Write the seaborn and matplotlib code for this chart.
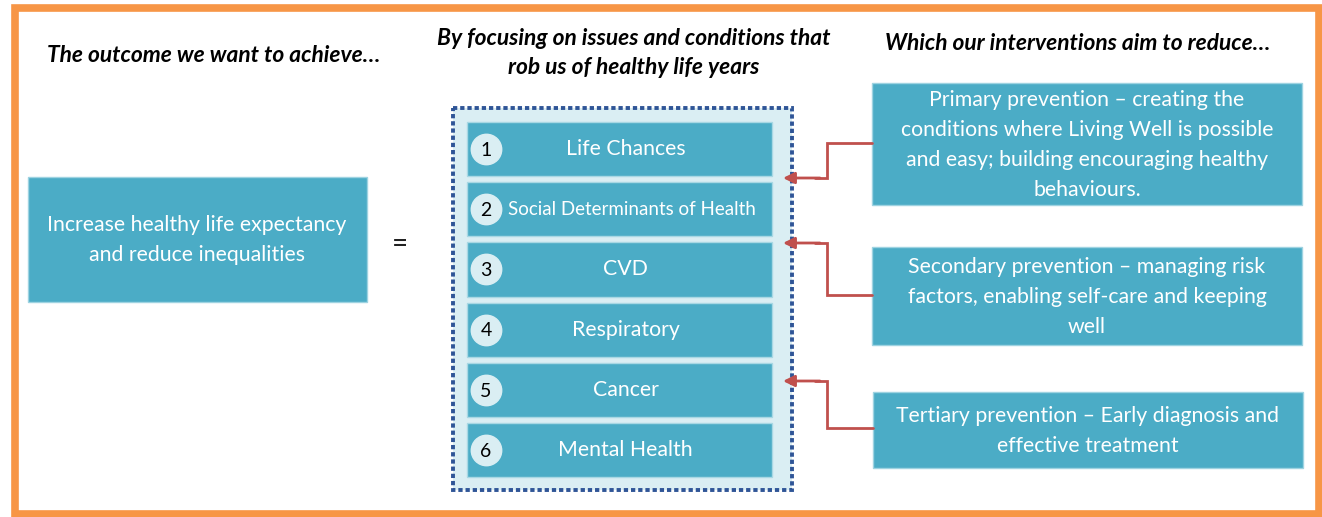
import matplotlib
matplotlib.use("Agg")
import matplotlib.pyplot as plt
from matplotlib.patches import Rectangle
import seaborn as sns

# content of the diagram
headings = ["The outcome we want to achieve\u2026",
            "By focusing on issues and conditions that\nrob us of healthy life years",
            "Which our interventions aim to reduce\u2026"]
outcome = "Increase healthy life expectancy\nand reduce inequalities"
row_numbers = ["1", "2", "3", "4", "5", "6"]
row_labels = ["Life Chances", "Social Determinants of Health", "CVD",
              "Respiratory", "Cancer", "Mental Health"]
row_len = [1, 1, 1, 1, 1, 1]
interventions = ["Primary prevention \u2013 creating the\nconditions where Living Well is possible\nand easy; building encouraging healthy\nbehaviours.",
                 "Secondary prevention \u2013 managing risk\nfactors, enabling self-care and keeping\nwell",
                 "Tertiary prevention \u2013 Early diagnosis and\neffective treatment"]

# layout in pixels (x0, y0, x1, y1)
W, H = 1322, 517
box_pos = [(872, 83, 1302, 205), (872, 247, 1302, 345), (873, 392, 1303, 468)]
link_from = [143, 295, 428]
link_to = [178, 243, 381]

TEAL = "#4BACC6"
PALE = "#DAEEF3"
RED = "#C0504D"
BODY = 15.3

sns.set_style("white")
plt.rcParams["font.family"] = ["Lato", "DejaVu Sans"]

fig = plt.figure(figsize=(W / 100, H / 100), dpi=100, facecolor="white")

# the six issues as a bar list
ax2 = fig.add_axes([453 / W, (H - 490) / H, 339 / W, 382 / H])
ax2.set_facecolor(PALE)
sns.barplot(x=row_len, y=row_labels, orient="h", color=TEAL, saturation=1,
            width=0.9, edgecolor="#A8D8E4", linewidth=1, ax=ax2)
ax2.set_xlim(-0.046, 1.066)
ax2.set_ylim(5.66, -0.68)
ax2.set_xticks([])
ax2.set_yticks([])
ax2.set_xlabel("")
ax2.set_ylabel("")
for s in ax2.spines.values():
    s.set_visible(False)
ax2.scatter([0.062] * len(row_numbers), range(len(row_numbers)), s=480,
            color=PALE, zorder=3)
for i, (n, lab) in enumerate(zip(row_numbers, row_labels)):
    ax2.text(0.062, i + 0.02, n, fontsize=14, ha="center", va="center", color="black", zorder=4)
    ax2.text(0.54 if i == 1 else 0.52, i, lab, fontsize=BODY if i != 1 else 13.5,
             ha="center", va="center", color="white")

# overlay axes in pixel coordinates for everything else
ax = fig.add_axes([0, 0, 1, 1])
ax.patch.set_visible(False)
ax.set_xlim(0, W)
ax.set_ylim(H, 0)
ax.axis("off")

# dotted container border
ax.add_patch(Rectangle((453, 108), 339, 382, fill=False, edgecolor="#2F5597",
                       lw=2.8, linestyle=(0, (1.1, 0.75))))

# orange frame
ax.add_patch(Rectangle((15, 8), 1304, 506, fill=False, edgecolor="#F79646", lw=5.5))

# headings
hk = dict(fontsize=16.4, fontweight="bold", fontstyle="italic", color="black",
          ha="center", va="center")
ax.text(214, 55, headings[0], **hk)
ax.text(634, 53, headings[1], linespacing=1.47, **hk)
ax.text(1078, 43, headings[2], **hk)

# outcome box
ax.add_patch(Rectangle((28, 177), 339, 125, facecolor=TEAL, edgecolor="#9ED3E1", lw=1))
ax.text(197, 240, outcome, color="white", fontsize=BODY, ha="center", va="center",
        linespacing=1.62)
ax.text(400, 244, "=", fontsize=20, ha="center", va="center", color="#222222")

# intervention boxes
for (x0, y0, x1, y1), txt in zip(box_pos, interventions):
    ax.add_patch(Rectangle((x0, y0), x1 - x0, y1 - y0, facecolor=TEAL,
                           edgecolor="#9ED3E1", lw=1))
    ax.text((x0 + x1) / 2, (y0 + y1) / 2 + 1, txt, color="white", fontsize=BODY,
            ha="center", va="center", linespacing=1.62)

# connectors
for (x0, y0, x1, y1), ya, yb in zip(box_pos, link_from, link_to):
    ax.plot([x0, 827, 827, 815], [ya, ya, yb, yb], color=RED, lw=2, solid_joinstyle="miter")
    ax.annotate("", xy=(783, yb), xytext=(820, yb),
                arrowprops=dict(arrowstyle="-|>", color=RED, lw=2, mutation_scale=17,
                                shrinkA=0, shrinkB=0))

fig.savefig("out.png", dpi=100)
